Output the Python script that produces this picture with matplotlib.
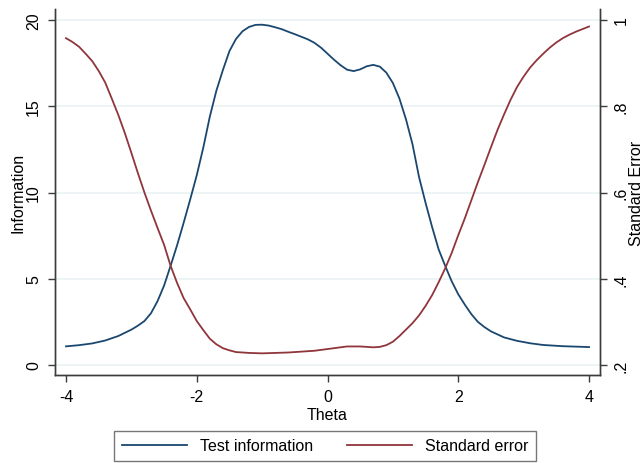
import matplotlib
matplotlib.use("Agg")
import matplotlib.pyplot as plt

plt.rcParams['font.family'] = ['Liberation Sans', 'DejaVu Sans']
plt.rcParams['axes.unicode_minus'] = False

# test information function
theta_info = [-4.0, -3.8, -3.6, -3.4, -3.2, -3.0, -2.9, -2.8, -2.7, -2.6,
              -2.5, -2.4, -2.3, -2.2, -2.1, -2.0, -1.9, -1.8, -1.7, -1.6,
              -1.5, -1.4, -1.3, -1.2, -1.1, -1.0, -0.9, -0.8, -0.7, -0.6,
              -0.5, -0.4, -0.3, -0.2, -0.1, 0.0, 0.1, 0.2, 0.3, 0.4,
              0.5, 0.6, 0.7, 0.8, 0.9, 1.0, 1.1, 1.2, 1.3, 1.4,
              1.5, 1.6, 1.7, 1.8, 1.9, 2.0, 2.1, 2.2, 2.3, 2.4,
              2.5, 2.7, 2.9, 3.1, 3.3, 3.6, 4.0]
info = [1.08, 1.15, 1.25, 1.42, 1.68, 2.05, 2.28, 2.55, 3.00, 3.70,
        4.60, 5.75, 6.95, 8.25, 9.60, 11.00, 12.60, 14.40, 15.90, 17.10,
        18.20, 18.90, 19.35, 19.60, 19.72, 19.73, 19.68, 19.58, 19.47, 19.32,
        19.18, 19.03, 18.88, 18.68, 18.40, 18.05, 17.70, 17.38, 17.12, 17.04,
        17.14, 17.32, 17.40, 17.30, 16.95, 16.35, 15.45, 14.25, 12.80, 10.90,
        9.40, 8.00, 6.70, 5.75, 4.85, 4.10, 3.50, 2.95, 2.50, 2.20,
        1.95, 1.60, 1.40, 1.26, 1.16, 1.09, 1.04]

# standard error of measurement
theta_se = [-4.0, -3.9, -3.8, -3.7, -3.6, -3.5, -3.4, -3.3, -3.2, -3.1,
            -3.0, -2.9, -2.8, -2.7, -2.6, -2.5, -2.4, -2.3, -2.2, -2.1,
            -2.0, -1.9, -1.8, -1.7, -1.6, -1.5, -1.4, -1.2, -1.0, -0.8,
            -0.6, -0.4, -0.2, 0.0, 0.1, 0.2, 0.3, 0.4, 0.5, 0.6,
            0.7, 0.8, 0.9, 1.0, 1.1, 1.2, 1.3, 1.4, 1.5, 1.6,
            1.7, 1.8, 1.9, 2.0, 2.1, 2.2, 2.3, 2.4, 2.5, 2.6,
            2.7, 2.8, 2.9, 3.0, 3.1, 3.2, 3.3, 3.4, 3.5, 3.6,
            3.7, 3.8, 3.9, 4.0]
se = [0.958, 0.949, 0.938, 0.922, 0.905, 0.882, 0.855, 0.818, 0.780, 0.738,
      0.692, 0.645, 0.600, 0.558, 0.518, 0.479, 0.430, 0.390, 0.355, 0.329,
      0.302, 0.281, 0.261, 0.248, 0.239, 0.234, 0.230, 0.228, 0.227, 0.228,
      0.229, 0.231, 0.233, 0.237, 0.239, 0.241, 0.243, 0.243, 0.243, 0.242,
      0.241, 0.242, 0.246, 0.254, 0.267, 0.282, 0.297, 0.315, 0.337, 0.362,
      0.392, 0.424, 0.460, 0.501, 0.540, 0.582, 0.624, 0.664, 0.705, 0.745,
      0.781, 0.815, 0.845, 0.869, 0.890, 0.907, 0.922, 0.936, 0.948, 0.958,
      0.966, 0.973, 0.979, 0.985]

x_ticks = [-4, -2, 0, 2, 4]
info_ticks = [0, 5, 10, 15, 20]
se_ticks = [0.2, 0.4, 0.6, 0.8, 1.0]
se_labels = ['.2', '.4', '.6', '.8', '1']

navy = '#1a476f'
maroon = '#90353b'
axis_col = '#3c3c3c'
grid_col = '#eaf2f3'
fs = 11.5

fig = plt.figure(figsize=(6.4, 4.64), dpi=100)
ax = fig.add_axes([55 / 640, 88 / 464, 545 / 640, 366 / 464])
ax2 = ax.twinx()

l1, = ax.plot(theta_info, info, color=navy, lw=1.3, label='Test information')
l2, = ax2.plot(theta_se, se, color=maroon, lw=1.3, label='Standard error')

# both y scales share the same gridlines: 0 <-> .2 and 20 <-> 1
ax.set_xlim(-4.168, 4.168)
ax.set_ylim(-0.58, 20.64)
ax2.set_ylim(0.2 - 0.58 * 0.04, 0.2 + 20.64 * 0.04)

ax.set_xticks(x_ticks)
ax.set_xticklabels([str(t) for t in x_ticks])
ax.set_yticks(info_ticks)
ax.set_yticklabels([str(t) for t in info_ticks], rotation=90, va='center')
ax2.set_yticks(se_ticks)
ax2.set_yticklabels(se_labels, rotation=90, va='center')

ax.yaxis.grid(True, color=grid_col, lw=1.2)
ax.set_axisbelow(True)

for a in (ax, ax2):
    a.spines['top'].set_visible(False)
    for s in ('left', 'right', 'bottom'):
        a.spines[s].set_color(axis_col)
        a.spines[s].set_linewidth(1.0)
    a.tick_params(length=5, width=1.0, color=axis_col, pad=5, labelsize=fs)

ax.set_xlabel('Theta', fontsize=fs, labelpad=2)
fig.text(10 / 640, 0.5 * (88 + 454) / 464, 'Information', rotation=90,
         ha='left', va='center', fontsize=fs)
fig.text(629 / 640, 0.5 * (88 + 454) / 464, 'Standard Error', rotation=90,
         ha='left', va='center', fontsize=fs)

leg = fig.legend([l1, l2], ['Test information', 'Standard error'], ncol=2,
                 loc='center', bbox_to_anchor=(325 / 640, 17 / 464),
                 fontsize=fs, frameon=True, fancybox=False,
                 handlelength=4.1, handletextpad=0.8, columnspacing=2.1,
                 borderpad=0.5)
leg.get_frame().set_edgecolor('#555555')
leg.get_frame().set_linewidth(1.0)

fig.savefig('out.png', dpi=100)
